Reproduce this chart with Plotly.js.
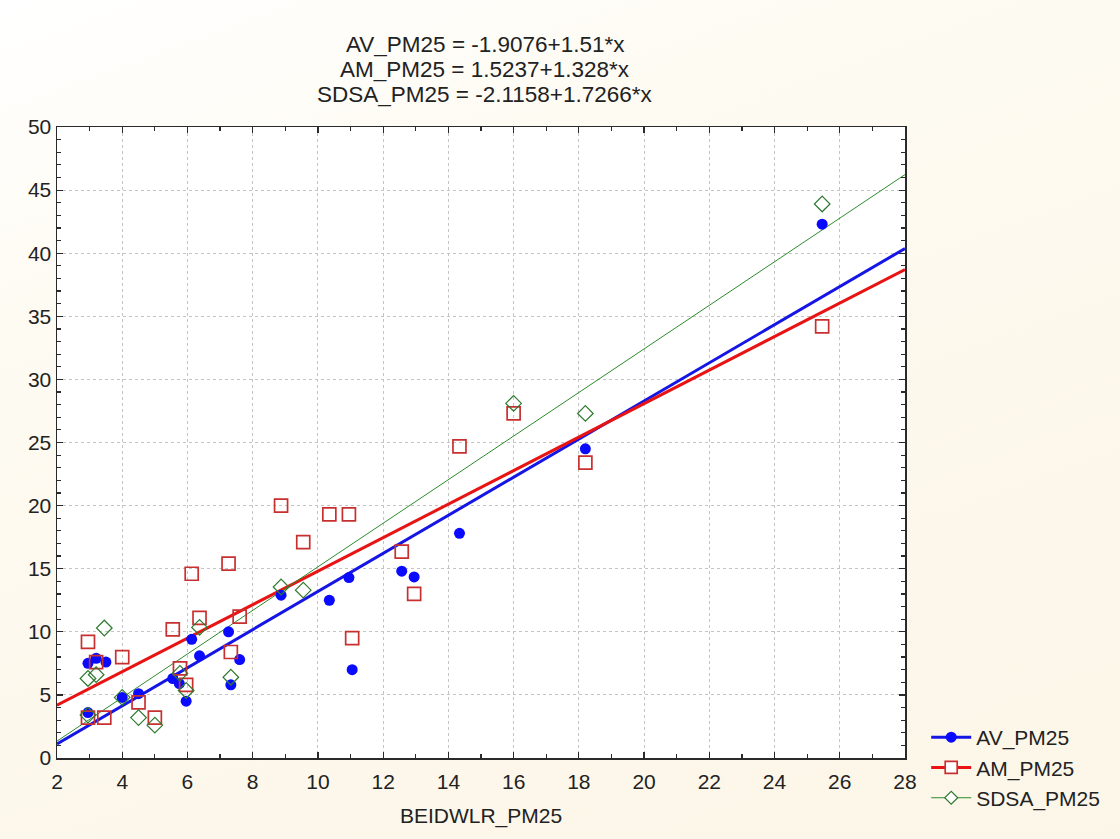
<!DOCTYPE html>
<html>
<head>
<meta charset="utf-8">
<script src="https://cdn.plot.ly/plotly-3.0.1.min.js"></script>
<style>html,body{margin:0;padding:0;background:#fdf9ef;}#chart{width:1120px;height:839px;background:linear-gradient(160deg,#ffffff 0%,#fefbf3 25%,#fdf8ec 60%,#fcf6e8 100%);}</style>
</head>
<body>
<div id="chart"></div>
<script>
// Data
const avX = [2.95, 3.2, 3.5, 2.95, 4.0, 4.5, 5.55, 5.75, 5.96, 6.13, 6.37, 7.26, 7.33, 7.6, 8.87, 10.35, 10.95, 11.05, 12.57, 12.95, 14.34, 18.2, 25.46];
const avY = [7.5, 7.9, 7.6, 3.6, 4.8, 5.1, 6.3, 5.9, 4.5, 9.4, 8.1, 10.0, 5.8, 7.8, 12.9, 12.5, 14.3, 7.0, 14.8, 14.35, 17.8, 24.5, 42.3];

const amX = [2.95, 3.2, 4.0, 5.55, 4.5, 5.0, 3.45, 2.95, 5.77, 6.13, 7.26, 6.37, 7.6, 5.96, 7.33, 8.87, 9.55, 10.35, 10.95, 11.05, 12.57, 12.95, 14.34, 16.0, 18.2, 25.46];
const amY = [9.2, 7.6, 8.0, 10.2, 4.4, 3.2, 3.2, 3.2, 7.1, 14.6, 15.4, 11.1, 11.2, 5.8, 8.4, 20.0, 17.1, 19.3, 19.3, 9.5, 16.35, 13.0, 24.7, 27.3, 23.4, 34.2];

const sdX = [3.45, 2.95, 3.2, 2.95, 4.0, 4.5, 5.0, 5.77, 5.96, 6.37, 7.33, 8.87, 9.55, 16.0, 18.2, 25.46];
const sdY = [10.3, 6.3, 6.6, 3.4, 4.8, 3.2, 2.6, 6.7, 5.35, 10.35, 6.4, 13.55, 13.3, 28.1, 27.3, 43.9];

// Regression coefficients as printed in the chart title
const seriesNames = ['AV_PM25', 'AM_PM25', 'SDSA_PM25'];
const intercepts = [-1.9076, 1.5237, -2.1158];
const slopes = [1.51, 1.328, 1.7266];
const interceptText = ['-1.9076', '1.5237', '-2.1158'];
const slopeText = ['1.51', '1.328', '1.7266'];
const fitRange = [2, 28];

const xTickVals = [2,4,6,8,10,12,14,16,18,20,22,24,26,28];
const yTickVals = [0,5,10,15,20,25,30,35,40,45,50];

const FONT = 'Liberation Sans, Arial, sans-serif';
const TXT = '#222222';
const colors = {av:'#0a0aff', avLine:'#1515e6', am:'#c83030', amLine:'#e81414', sd:'#2f7a2f', sdLine:'#2e8b2e'};

function fit(i){ return fitRange.map(x => intercepts[i] + slopes[i]*x); }

const traces = [
  {x: fitRange, y: fit(0), mode:'lines', line:{color:colors.avLine, width:3}, showlegend:false, hoverinfo:'skip'},
  {x: fitRange, y: fit(1), mode:'lines', line:{color:colors.amLine, width:3}, showlegend:false, hoverinfo:'skip'},
  {x: fitRange, y: fit(2), mode:'lines', line:{color:colors.sdLine, width:1}, showlegend:false, hoverinfo:'skip'},
  {x: avX, y: avY, name: seriesNames[0], mode:'markers', type:'scatter', showlegend:false,
   marker:{symbol:'circle', size:11, color:colors.av, line:{width:0}}},
  {x: amX, y: amY, name: seriesNames[1], mode:'markers', type:'scatter', showlegend:false,
   marker:{symbol:'square-open', size:13, color:colors.am, line:{width:1.7, color:colors.am}}},
  {x: sdX, y: sdY, name: seriesNames[2], mode:'markers', type:'scatter', showlegend:false,
   marker:{symbol:'diamond-open', size:12, color:colors.sd, line:{width:1.2, color:colors.sd}}},
  {x:[null], y:[null], name: seriesNames[0], mode:'lines+markers', showlegend:true,
   line:{color:colors.avLine, width:3}, marker:{symbol:'circle', size:11, color:colors.av}},
  {x:[null], y:[null], name: seriesNames[1], mode:'lines+markers', showlegend:true,
   line:{color:colors.amLine, width:3}, marker:{symbol:'square', size:12, color:'#ffffff', line:{width:1.7, color:colors.am}}},
  {x:[null], y:[null], name: seriesNames[2], mode:'lines+markers', showlegend:true,
   line:{color:colors.sdLine, width:1}, marker:{symbol:'diamond', size:10, color:'#ffffff', line:{width:1.2, color:colors.sd}}}
];

// Title lines as annotations so the 25px line spacing matches
const titleLines = seriesNames.map((n,i) => n + ' = ' + interceptText[i] + '+' + slopeText[i] + '*x');
const titleY = [1.131, 1.091, 1.051];
const annotations = titleLines.map((t,i) => ({
  text:t, xref:'paper', yref:'paper', x:0.505, y:titleY[i], xanchor:'center', yanchor:'middle',
  showarrow:false, font:{family:FONT, size:22.5, color:TXT}
}));

const axisCommon = {
  showline:true, linecolor:'#2a2a2a', linewidth:1.5, mirror:'ticks',
  ticks:'inside', ticklen:6, tickwidth:1.2, tickcolor:'#2a2a2a',
  showgrid:true, gridcolor:'#c4c4c4', griddash:'dot', gridwidth:1,
  zeroline:false, tickfont:{family:FONT, size:21, color:TXT},
};

const layout = {
  width:1120, height:839,
  paper_bgcolor:'rgba(0,0,0,0)', plot_bgcolor:'#ffffff',
  margin:{l:57, r:215, t:127, b:81},
  font:{family:FONT, color:TXT},
  annotations: annotations,
  xaxis: Object.assign({}, axisCommon, {range:[2,28], tickvals:xTickVals, ticktext:xTickVals.map(String),
    ticklabelstandoff:4,
    minor:{dtick:1, tick0:0, ticks:'inside', ticklen:4, tickcolor:'#2a2a2a', showgrid:false},
    title:{text:'BEIDWLR_PM25', font:{family:FONT, size:21, color:TXT}, standoff:16}}),
  yaxis: Object.assign({}, axisCommon, {range:[0,50], tickvals:yTickVals, ticktext:yTickVals.map(String),
    minor:{dtick:1, tick0:0, ticks:'inside', ticklen:4, tickcolor:'#2a2a2a', showgrid:false}}),
  showlegend:true,
  legend:{x:1.025, xanchor:'left', y:0.065, yanchor:'top', bgcolor:'rgba(0,0,0,0)',
    font:{family:FONT, size:21, color:TXT}, tracegroupgap:0, itemwidth:40}
};

Plotly.newPlot('chart', traces, layout, {displayModeBar:false, staticPlot:true});
</script>
</body>
</html>
